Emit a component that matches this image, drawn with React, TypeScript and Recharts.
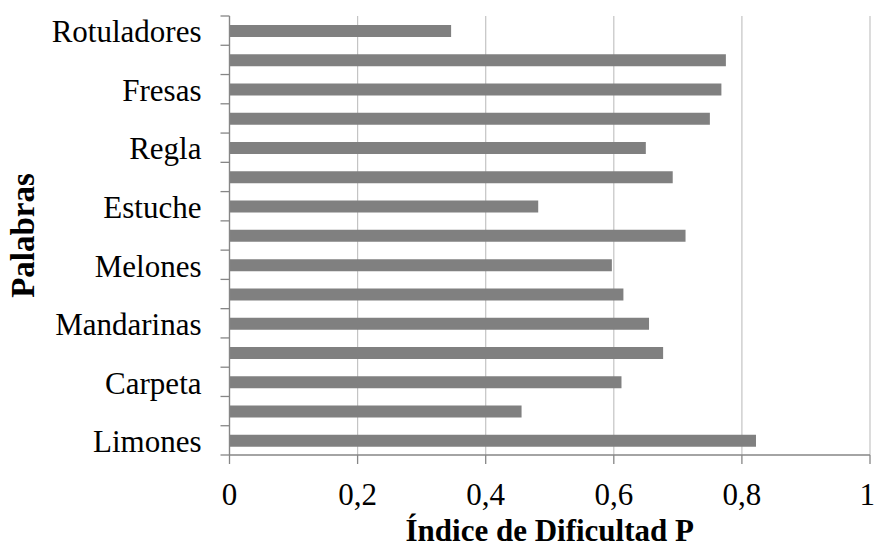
import React from 'react';
import { BarChart, Bar, XAxis, YAxis, CartesianGrid } from 'recharts';

// categories from top to bottom; every other label is hidden in the original
const words = ['Rotuladores', '', 'Fresas', '', 'Regla', '', 'Estuche', '', 'Melones', '', 'Mandarinas', '', 'Carpeta', '', 'Limones'];
const difficulty = [0.346, 0.775, 0.768, 0.75, 0.65, 0.692, 0.482, 0.712, 0.597, 0.615, 0.655, 0.677, 0.612, 0.456, 0.822];
const xTicks = [0, 0.2, 0.4, 0.6, 0.8, 1];

const data = words.map((w, i) => ({ idx: i, name: w, p: difficulty[i] }));

const W = 875;
const H = 549;
const MARGIN = { top: 16, right: 5, bottom: 0, left: 0 };
const Y_WIDTH = 229.5;
const X_HEIGHT = 94;
const TICK_SIZE = 9;
const Y_TICK_MARGIN = 19;
const FONT = 'Liberation Serif, DejaVu Serif, serif';
const AXIS_COLOR = '#868686';

const band = (H - MARGIN.top - MARGIN.bottom - X_HEIGHT) / words.length;

function WordTick(props: any) {
  const { x, y, index } = props;
  const axisX = x + TICK_SIZE + Y_TICK_MARGIN;
  const last = index === words.length - 1;
  return (
    <g>
      <line x1={axisX - TICK_SIZE} x2={axisX} y1={y - band / 2} y2={y - band / 2} stroke={AXIS_COLOR} strokeWidth={1.3} />
      {last && (
        <line x1={axisX - TICK_SIZE} x2={axisX} y1={y + band / 2} y2={y + band / 2} stroke={AXIS_COLOR} strokeWidth={1.3} />
      )}
      <text x={x} y={y} dy="0.38em" textAnchor="end" style={{ fontSize: 31, fontFamily: FONT }} fill="#000">
        {words[index]}
      </text>
    </g>
  );
}

export default function App() {
  return (
    <div style={{ position: 'absolute', left: 0, top: 0, background: '#fff', fontFamily: FONT }}>
      <BarChart width={W} height={H} data={data} layout="vertical" margin={MARGIN} barSize={12} style={{ fontFamily: FONT }}>
        <CartesianGrid horizontal={false} stroke="#c4c4c4" strokeWidth={1.2} />
        <XAxis
          type="number"
          domain={[0, 1]}
          ticks={xTicks}
          height={X_HEIGHT}
          tickSize={TICK_SIZE}
          tickMargin={19}
          stroke={AXIS_COLOR}
          strokeWidth={1.3}
          tick={{ fill: '#000', fontSize: 31, style: { fontFamily: FONT } }}
          tickFormatter={(v: number) => String(v).replace('.', ',')}
          label={{
            value: 'Índice de Dificultad P',
            position: 'insideBottom',
            offset: 8,
            style: { fontSize: 31, fontWeight: 'bold', fontFamily: FONT, fill: '#000' },
          }}
        />
        <YAxis
          type="category"
          dataKey="idx"
          width={Y_WIDTH}
          interval={0}
          tickLine={false}
          tickSize={TICK_SIZE}
          tickMargin={Y_TICK_MARGIN}
          stroke={AXIS_COLOR}
          strokeWidth={1.3}
          tick={<WordTick />}
          label={{
            value: 'Palabras',
            angle: -90,
            position: 'insideLeft',
            offset: 22,
            style: { fontSize: 33, fontWeight: 'bold', fontFamily: FONT, fill: '#000', textAnchor: 'middle' },
          }}
        />
        <Bar dataKey="p" fill="#808080" isAnimationActive={false} />
      </BarChart>
    </div>
  );
}
